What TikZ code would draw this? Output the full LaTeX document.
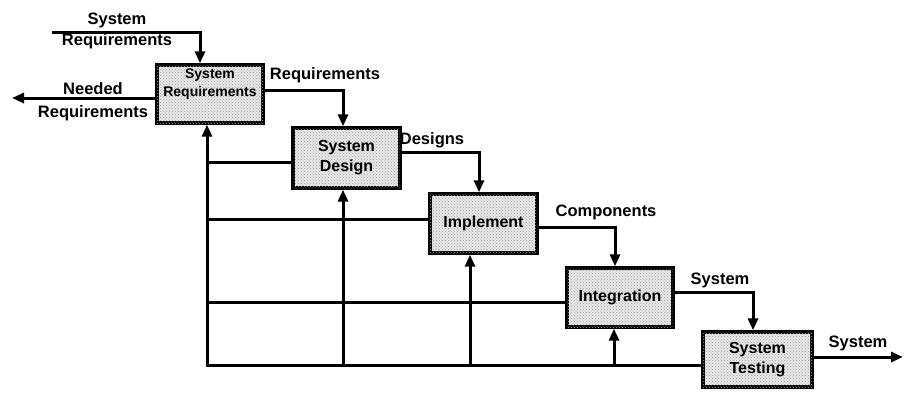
\documentclass[tikz,border=0pt]{standalone}
\usepackage{fontspec}
\setmainfont{Liberation Sans}
\usetikzlibrary{arrows.meta,patterns}
\begin{document}
\begin{tikzpicture}[x=1pt,y=-1pt,
  box/.style={draw, line width=3.4pt, fill=gray!18,
    postaction={pattern=crosshatch dots, pattern color=gray!75},
    font=\bfseries\fontsize{16}{20}\selectfont, align=center, inner sep=0pt},
  lbl/.style={font=\bfseries\fontsize{16.5}{19}\selectfont, inner sep=0pt},
  conn/.style={line width=3pt},
  flow/.style={conn, -{Triangle[length=12pt,width=10pt]}}]
\useasboundingbox (0,0) rectangle (905,392);

% boxes
\node[box, minimum width=106pt, minimum height=58pt,
      font=\bfseries\fontsize{14}{18}\selectfont, text depth=22pt] (b1) at (210,94) {System\\Requirements};
\node[box, minimum width=107pt, minimum height=60pt] (b2) at (346.5,158) {System\\Design};
\node[box, minimum width=107pt, minimum height=59pt] (b3) at (483.5,223.5) {Implement};
\node[box, minimum width=106pt, minimum height=59pt] (b4) at (620,297.5) {Integration};
\node[box, minimum width=109pt, minimum height=55pt] (b5) at (757.5,359.5) {System\\Testing};

% input
\coordinate (sr) at (52,32);
\draw[flow] (sr) -| ([xshift=-10pt]b1.north);
\node[lbl] (t1) at (117,20) {System};
\node[lbl] (t2) at (117,41) {Requirements};

% needed requirements out
\coordinate (nr) at (12,98);
\draw[flow] (b1.west |- nr) -- (nr);
\node[lbl] (t3) at (93,89) {Needed};
\node[lbl] (t4) at (93,113) {Requirements};

% forward flow
\draw[flow] ([yshift=4pt]b1.east) -| ([xshift=-3.5pt]b2.north);
\node[lbl] (t5) at (325,75) {Requirements};
\draw[flow] ([yshift=6pt]b2.east) -| ([xshift=-4.5pt]b3.north);
\node[lbl] (t6) at (432,140) {Designs};
\draw[flow] ([yshift=-3.5pt]b3.east) -| ([xshift=-5pt]b4.north);
\node[lbl] (t7) at (606,212) {Components};
\draw[flow] ([yshift=5.5pt]b4.east) -| ([xshift=-4.5pt]b5.north);
\node[lbl] (t8) at (720,280) {System};
\coordinate (so) at (903,357);
\draw[flow] (b5.east |- so) -- (so);
\node[lbl] (t9) at (858,343) {System};

% feedback
\coordinate (fl) at (207,365);
\draw[flow] (b5.west |- fl) -- (fl) -- (fl |- b1.south);
\coordinate (h2) at (207,162);
\coordinate (h3) at (207,219);
\coordinate (h4) at (207,302);
\draw[conn] (h2) -- (b2.west |- h2);
\draw[conn] (h3) -- (b3.west |- h3);
\draw[conn] (h4) -- (b4.west |- h4);
\coordinate (u2) at (343,365);
\coordinate (u3) at (470,365);
\coordinate (u4) at (614,365);
\draw[flow] (u2) -- (u2 |- b2.south);
\draw[flow] (u3) -- (u3 |- b3.south);
\draw[flow] (u4) -- (u4 |- b4.south);
\end{tikzpicture}
\end{document}
